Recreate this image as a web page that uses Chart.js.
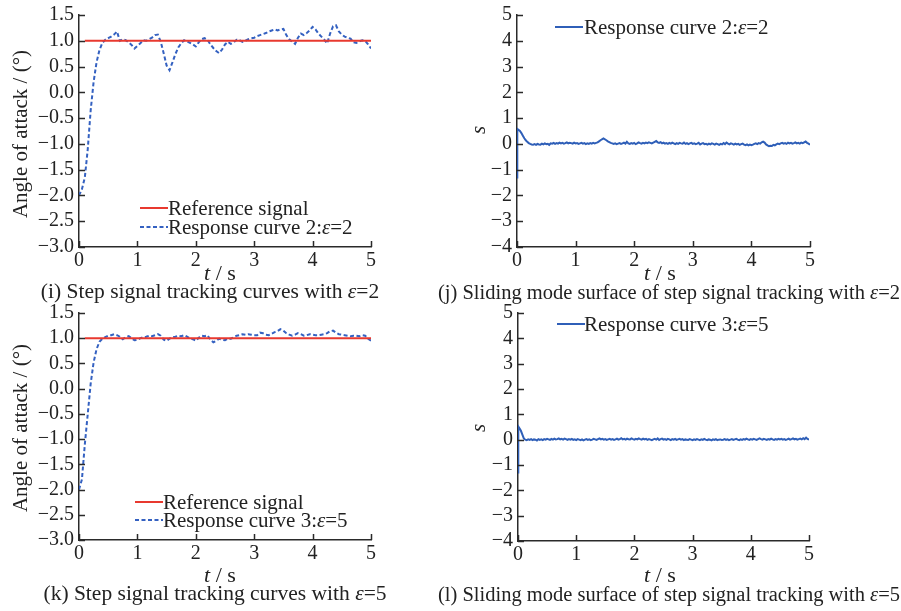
<!DOCTYPE html>
<html lang="en">

<head>
    <meta charset="UTF-8" />
    <title>Step signal tracking and sliding mode surface</title>
    <script src="https://cdn.jsdelivr.net/npm/chart.js"></script>

    <style>
        body {
            margin: 0;
            padding: 0;
            background: #fff;
            font-family: "Liberation Serif", "Times New Roman", serif;
            color: #222;
        }

        .figure {
            position: relative;
            width: 901px;
            height: 611px;
            overflow: hidden;
        }

        .figure canvas {
            position: absolute;
        }

        .txt {
            position: absolute;
            white-space: nowrap;
            line-height: 1;
        }

        .caption {
            font-size: 21.5px;
            transform: translate(-50%, -50%);
        }

        .caption.wide {
            font-size: 20.5px;
        }

        .xtitle {
            font-size: 22px;
            transform: translate(-50%, -50%);
        }

        .ytitle {
            font-size: 21px;
            transform: translate(-50%, -50%) rotate(-90deg);
        }

        .legend {
            font-size: 21px;
            transform: translateY(-50%);
        }

        .sample {
            position: absolute;
        }
    </style>
</head>

<body>
    <div class="figure" id="fig">
        <canvas id="chartI" width="390" height="280" style="left:0;top:0"></canvas>
        <canvas id="chartJ" width="440" height="280" style="left:440px;top:0"></canvas>
        <canvas id="chartK" width="390" height="280" style="left:0;top:298px"></canvas>
        <canvas id="chartL" width="440" height="280" style="left:440px;top:298px"></canvas>

        <!-- axis titles -->
        <div class="txt ytitle" style="left:20px;top:134px">Angle of attack / (°)</div>
        <div class="txt ytitle" style="left:20px;top:428px">Angle of attack / (°)</div>
        <div class="txt ytitle" style="left:478px;top:130px"><i>s</i></div>
        <div class="txt ytitle" style="left:478px;top:428px"><i>s</i></div>
        <div class="txt xtitle" style="left:220px;top:273px"><i>t</i> / s</div>
        <div class="txt xtitle" style="left:660px;top:273px"><i>t</i> / s</div>
        <div class="txt xtitle" style="left:220px;top:575px"><i>t</i> / s</div>
        <div class="txt xtitle" style="left:660px;top:575px"><i>t</i> / s</div>

        <!-- captions -->
        <div class="txt caption" style="left:210px;top:292px">(i) Step signal tracking curves with <i>ε</i>=2</div>
        <div class="txt caption wide" style="left:669px;top:292px">(j) Sliding mode surface of step signal tracking with <i>ε</i>=2</div>
        <div class="txt caption" style="left:215px;top:594px">(k) Step signal tracking curves with <i>ε</i>=5</div>
        <div class="txt caption wide" style="left:669px;top:594px">(l) Sliding mode surface of step signal tracking with <i>ε</i>=5</div>

        <!-- legends -->
        <svg class="sample" style="left:140px;top:203px" width="28" height="10"><line x1="0" y1="5" x2="28" y2="5" stroke="#e8392f" stroke-width="2" /></svg>
        <div class="txt legend" style="left:168px;top:208px">Reference signal</div>
        <svg class="sample" style="left:140px;top:222px" width="28" height="10"><line x1="0" y1="5" x2="28" y2="5" stroke="#3461c1" stroke-width="2" stroke-dasharray="4 2.5" /></svg>
        <div class="txt legend" style="left:168px;top:227px">Response curve 2:<i>ε</i>=2</div>

        <svg class="sample" style="left:135px;top:497px" width="28" height="10"><line x1="0" y1="5" x2="28" y2="5" stroke="#e8392f" stroke-width="2" /></svg>
        <div class="txt legend" style="left:163px;top:502px">Reference signal</div>
        <svg class="sample" style="left:135px;top:515px" width="28" height="10"><line x1="0" y1="5" x2="28" y2="5" stroke="#3461c1" stroke-width="2" stroke-dasharray="4 2.5" /></svg>
        <div class="txt legend" style="left:163px;top:520px">Response curve 3:<i>ε</i>=5</div>

        <svg class="sample" style="left:555px;top:22px" width="28" height="10"><line x1="0" y1="5" x2="28" y2="5" stroke="#2f5fb8" stroke-width="2" /></svg>
        <div class="txt legend" style="left:584px;top:27px">Response curve 2:<i>ε</i>=2</div>
        <svg class="sample" style="left:557px;top:319px" width="28" height="10"><line x1="0" y1="5" x2="28" y2="5" stroke="#2f5fb8" stroke-width="2" /></svg>
        <div class="txt legend" style="left:584px;top:324px">Response curve 3:<i>ε</i>=5</div>
    </div>

    <script>
        // ---- data ----
        const timeTicks = [0, 1, 2, 3, 4, 5];
        const alphaTicks = [-3.0, -2.5, -2.0, -1.5, -1.0, -0.5, 0.0, 0.5, 1.0, 1.5];
        const sTicks = [-4, -3, -2, -1, 0, 1, 2, 3, 4, 5];

        // reference step signal (deg)
        const refTime = [0.1, 5];
        const refValue = [1, 1];

        // angle of attack, sampled every 0.05 s
        const alphaEps2 = [
            -2.00, -1.88, -1.65, -1.10, -0.35, 0.20, 0.58, 0.82, 0.96, 1.02,
            1.05, 1.08, 1.12, 1.18, 1.00, 1.03, 1.01, 0.97, 0.92, 0.85,
            0.90, 0.95, 1.01, 1.00, 1.03, 1.06, 1.11, 1.12, 0.98, 0.76,
            0.52, 0.43, 0.58, 0.74, 0.87, 0.95, 1.01, 0.99, 0.96, 0.93,
            0.89, 0.97, 1.03, 1.05, 1.02, 0.93, 0.86, 0.80, 0.76, 0.83,
            0.93, 0.98, 0.94, 0.97, 1.02, 1.01, 0.98, 1.00, 1.03, 1.05,
            1.06, 1.09, 1.11, 1.13, 1.15, 1.18, 1.20, 1.22, 1.20, 1.22,
            1.23, 1.11, 1.03, 0.98, 0.94, 1.06, 1.14, 1.11, 1.15, 1.20,
            1.27, 1.22, 1.14, 1.08, 1.02, 0.95, 1.14, 1.28, 1.30, 1.18,
            1.12, 1.08, 1.06, 1.04, 0.97, 0.96, 0.99, 1.01, 1.00, 0.93,
            0.85
        ];
        const alphaEps5 = [
            -2.00, -1.80, -1.10, -0.50, 0.10, 0.52, 0.78, 0.93, 0.99, 1.02,
            1.05, 1.06, 1.08, 1.06, 1.03, 0.98, 1.02, 1.04, 1.00, 0.96,
            0.97, 1.00, 1.02, 1.03, 1.05, 1.04, 1.06, 1.08, 1.05, 0.97,
            0.95, 0.99, 1.02, 1.03, 1.05, 1.04, 1.06, 1.03, 1.00, 0.98,
            0.95, 1.01, 1.05, 1.04, 1.06, 0.97, 0.92, 0.95, 0.99, 0.97,
            0.96, 0.99, 0.99, 1.02, 1.05, 1.06, 1.08, 1.07, 1.08, 1.07,
            1.06, 1.06, 1.11, 1.10, 1.07, 1.06, 1.09, 1.12, 1.14, 1.18,
            1.15, 1.10, 1.07, 1.05, 1.07, 1.10, 1.08, 1.05, 1.06, 1.08,
            1.07, 1.06, 1.06, 1.07, 1.08, 1.10, 1.14, 1.15, 1.11, 1.08,
            1.07, 1.06, 1.05, 1.04, 1.05, 1.05, 1.04, 1.06, 1.05, 0.99,
            0.95
        ];
        const alphaTime = alphaEps2.map((_, i) => i * 0.05);

        // sliding surface: jump at t=0, then samples every 0.025 s
        const sEps2 = [
            -1.30, 0.58,
            0.55, 0.50, 0.42, 0.32, 0.22, 0.14, 0.08, 0.03, 0.00, -0.02, -0.03, -0.01, -0.04, 0.00, -0.02, -0.03, 0.01, -0.02, 0.02, -0.01,
            0.00, -0.04, 0.02, 0.01, 0.04, 0.00, 0.03, 0.01, 0.05, 0.02, 0.04, 0.01, 0.03, 0.06, 0.02, 0.04, 0.03, 0.01, 0.05, 0.02,
            0.03, 0.00, 0.02, 0.04, 0.01, 0.03, -0.01, 0.02, 0.00, 0.03, 0.01, 0.04, 0.02, 0.04, 0.06, 0.10, 0.14, 0.18, 0.21, 0.18,
            0.14, 0.10, 0.07, 0.04, 0.02, 0.00, 0.02, -0.01, 0.01, 0.03, 0.00, 0.02, 0.05, 0.01, 0.08, 0.02, 0.00, 0.03, 0.01, 0.04,
            -0.01, 0.02, 0.06, 0.03, 0.01, 0.04, 0.02, 0.05, 0.03, 0.06, 0.04, 0.02, 0.05, 0.08, 0.11, 0.06, 0.04, 0.07, 0.02, 0.05,
            0.01, 0.03, 0.00, 0.04, 0.01, 0.05, 0.02, -0.01, 0.03, 0.00, 0.04, 0.02, 0.01, 0.05, 0.00, 0.03, -0.01, 0.02, 0.04, 0.00,
            0.02, -0.01, 0.01, 0.04, -0.02, 0.01, 0.03, -0.01, 0.00, -0.03, 0.01, -0.02, 0.02, 0.00, -0.03, 0.01, -0.01, -0.04, 0.00, -0.02,
            0.03, -0.01, 0.05, 0.01, -0.02, 0.02, 0.00, -0.03, 0.01, -0.02, 0.00, -0.04, -0.01, 0.01, -0.03, -0.05, -0.02, -0.06, -0.03, -0.05,
            -0.03, 0.00, 0.02, -0.01, 0.03, 0.01, 0.06, 0.09, 0.05, -0.02, -0.06, -0.09, -0.07, -0.08, -0.04, -0.06, -0.02, 0.01, -0.01, 0.02,
            0.04, 0.01, 0.03, 0.00, 0.05, 0.02, 0.04, 0.01, 0.03, 0.06, 0.02, 0.04, 0.01, 0.05, 0.03, 0.06, 0.09, 0.04, 0.01, -0.03
        ];
        const sEps5 = [
            -1.30, 0.52,
            0.45, 0.35, 0.20, 0.05, 0.00, -0.02, 0.01, -0.01, 0.02, -0.02, 0.01, 0.00, -0.03, 0.02, -0.01, 0.01, -0.02, 0.02, 0.00, 0.03,
            0.01, -0.01, 0.03, 0.00, 0.04, 0.01, 0.02, 0.05, 0.01, 0.03, 0.00, 0.04, 0.02, -0.01, 0.02, 0.00, 0.03, -0.01, 0.01, -0.02,
            0.02, 0.00, -0.02, 0.01, -0.03, 0.00, 0.02, -0.01, 0.01, -0.02, 0.00, 0.03, 0.01, -0.01, 0.02, 0.05, 0.01, 0.03, 0.00, 0.02,
            -0.01, 0.01, 0.03, 0.00, 0.02, -0.01, 0.01, 0.04, 0.00, 0.02, 0.06, 0.01, 0.03, 0.00, 0.04, 0.02, 0.01, 0.05, 0.02, 0.00,
            0.03, 0.01, 0.05, 0.02, 0.00, 0.04, 0.01, 0.03, -0.01, 0.02, 0.00, -0.02, 0.01, 0.03, 0.00, 0.05, -0.01, 0.02, 0.04, 0.00,
            0.02, -0.01, 0.03, 0.01, -0.02, 0.02, 0.00, 0.03, -0.01, 0.01, 0.03, 0.00, 0.02, -0.02, 0.01, 0.00, -0.01, 0.02, 0.00, -0.02,
            0.01, -0.01, 0.02, 0.00, -0.02, 0.01, -0.01, 0.03, 0.00, -0.02, 0.01, 0.00, -0.03, 0.01, -0.01, 0.02, -0.02, 0.00, 0.01, -0.01,
            0.00, 0.02, -0.01, 0.01, -0.02, 0.00, 0.02, -0.01, 0.01, 0.03, 0.00, -0.02, 0.01, -0.01, 0.02, 0.00, 0.04, 0.01, -0.01, 0.02,
            0.00, 0.03, 0.01, -0.01, 0.02, 0.05, 0.02, 0.00, 0.03, 0.01, -0.01, 0.02, 0.00, 0.04, 0.01, -0.01, 0.02, 0.00, 0.03, 0.01,
            0.03, 0.00, 0.02, -0.01, 0.01, 0.04, 0.00, 0.02, 0.05, 0.01, 0.03, 0.00, 0.02, 0.04, 0.01, 0.06, 0.02, 0.08, 0.03, 0.00
        ];
        const sTime = sEps2.map((_, i) => (i < 2 ? i * 0.005 : (i - 1) * 0.025));

        // ---- drawing ----
        const FONT = "'Liberation Serif', 'Times New Roman', serif";
        const AXIS = '#2a2a2a';
        const RED = '#e8392f';
        const BLUE = '#3461c1';
        const BLUE_SOLID = '#2f5fb8';

        const minus = v => String(v).replace('-', '\u2212');

        function points(xs, ys) {
            return ys.map((y, i) => ({ x: xs[i], y: y }));
        }

        // ticks that point into the plot area
        const inwardTicks = {
            id: 'inwardTicks',
            afterDraw(chart) {
                const ctx = chart.ctx;
                const a = chart.chartArea;
                ctx.save();
                ctx.strokeStyle = AXIS;
                ctx.lineWidth = 1.5;
                ctx.beginPath();
                chart.scales.x.ticks.forEach(t => {
                    const px = Math.round(chart.scales.x.getPixelForValue(t.value)) + 0.5;
                    ctx.moveTo(px, a.bottom);
                    ctx.lineTo(px, a.bottom - 6);
                });
                chart.scales.y.ticks.forEach(t => {
                    const py = Math.round(chart.scales.y.getPixelForValue(t.value)) + 0.5;
                    ctx.moveTo(a.left, py);
                    ctx.lineTo(a.left + 6, py);
                });
                ctx.stroke();
                ctx.restore();
            }
        };

        function makePanel(id, box, yTicks, yFormat, datasets) {
            const canvas = document.getElementById(id);
            const axisStyle = {
                grid: { display: true, drawOnChartArea: false, drawTicks: false },
                border: { display: true, color: AXIS, width: 1.5 }
            };
            return new Chart(canvas.getContext('2d'), {
                type: 'line',
                data: { datasets: datasets },
                plugins: [inwardTicks],
                options: {
                    responsive: false,
                    animation: false,
                    devicePixelRatio: 1,
                    layout: { padding: { top: box.top, right: box.right, left: 0, bottom: 0 } },
                    plugins: { legend: { display: false }, tooltip: { enabled: false } },
                    elements: { point: { radius: 0 }, line: { tension: 0 } },
                    scales: {
                        x: {
                            type: 'linear',
                            min: timeTicks[0],
                            max: timeTicks[timeTicks.length - 1],
                            afterBuildTicks: s => { s.ticks = timeTicks.map(v => ({ value: v })); },
                            afterFit: s => { s.height = box.xHeight; },
                            ticks: {
                                color: '#222', padding: 2, maxRotation: 0, autoSkip: false,
                                font: { family: FONT, size: 20 },
                                callback: v => String(v)
                            },
                            ...axisStyle
                        },
                        y: {
                            type: 'linear',
                            min: yTicks[0],
                            max: yTicks[yTicks.length - 1],
                            afterBuildTicks: s => { s.ticks = yTicks.map(v => ({ value: v })); },
                            afterFit: s => { s.width = box.yWidth; },
                            ticks: {
                                color: '#222', padding: 5, autoSkip: false,
                                font: { family: FONT, size: 20, lineHeight: 1 },
                                callback: yFormat
                            },
                            ...axisStyle
                        }
                    }
                }
            });
        }

        const alphaFormat = v => minus(Number(v).toFixed(1));
        const sFormat = v => minus(Math.round(v));

        makePanel('chartI', { top: 15, right: 19, yWidth: 79, xHeight: 33 }, alphaTicks, alphaFormat, [
            { data: points(refTime, refValue), borderColor: RED, borderWidth: 2 },
            { data: points(alphaTime, alphaEps2), borderColor: BLUE, borderWidth: 2, borderDash: [4, 2.5] }
        ]);

        makePanel('chartK', { top: 15, right: 19, yWidth: 79, xHeight: 38 }, alphaTicks, alphaFormat, [
            { data: points(refTime, refValue), borderColor: RED, borderWidth: 2 },
            { data: points(alphaTime, alphaEps5), borderColor: BLUE, borderWidth: 2, borderDash: [4, 2.5] }
        ]);

        makePanel('chartJ', { top: 15, right: 70, yWidth: 77, xHeight: 33 }, sTicks, sFormat, [
            { data: points(sTime, sEps2), borderColor: BLUE_SOLID, borderWidth: 2 }
        ]);

        makePanel('chartL', { top: 15, right: 71, yWidth: 78, xHeight: 37 }, sTicks, sFormat, [
            { data: points(sTime, sEps5), borderColor: BLUE_SOLID, borderWidth: 2 }
        ]);
    </script>
</body>

</html>
